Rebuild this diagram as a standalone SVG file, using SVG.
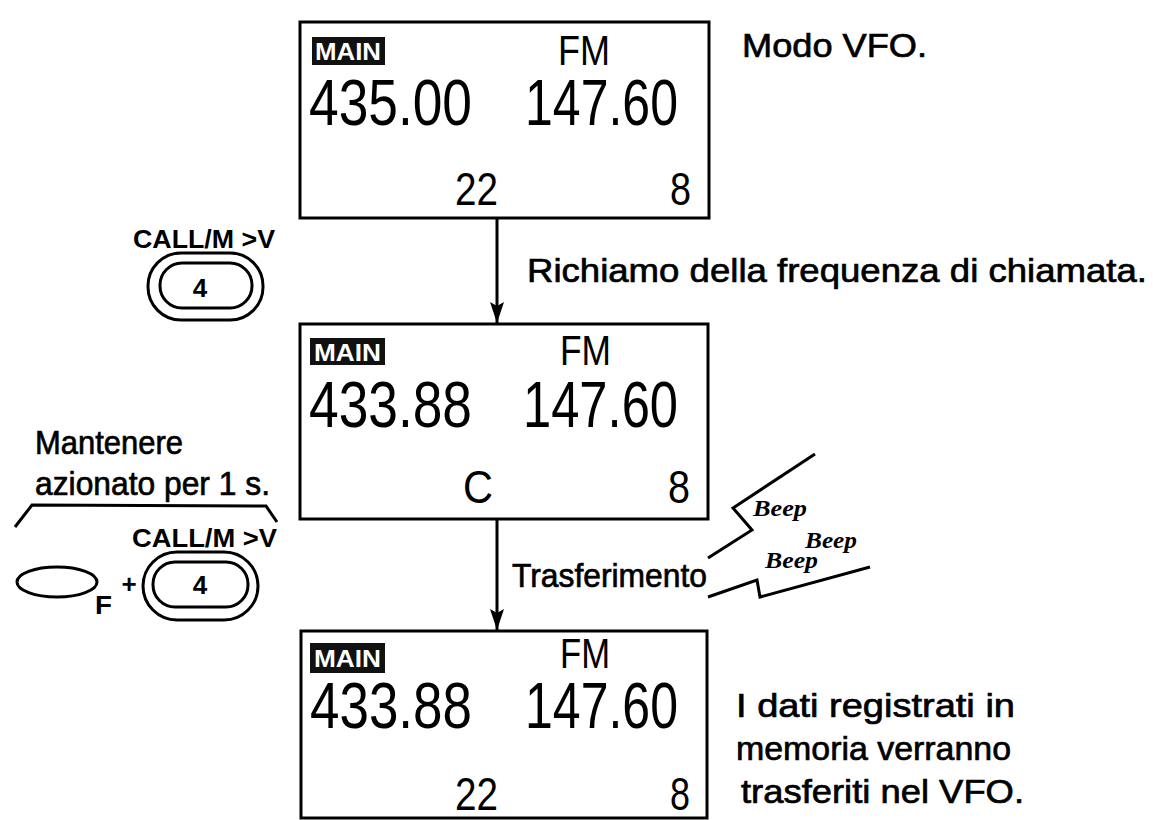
<svg xmlns="http://www.w3.org/2000/svg" width="1153" height="820" viewBox="0 0 1153 820">
<style>
.box{fill:#fff;stroke:#000;stroke-width:3}
.lcd{font-family:"Liberation Sans",Arial,sans-serif;fill:#000}
.big{font-size:64px}
.fm{font-size:42px}
.small{font-size:46px}
.tag{fill:#111}
.tagt{font-family:"Liberation Sans",Arial,sans-serif;font-weight:bold;font-size:24px;fill:#fff}
.lbl{font-family:"Liberation Sans",Arial,sans-serif;font-size:34px;fill:#000;stroke:#000;stroke-width:0.7}
.key{font-family:"Liberation Sans",Arial,sans-serif;font-weight:bold;font-size:26px;fill:#000}
.btn{fill:none;stroke:#000;stroke-width:3}
.ln{fill:none;stroke:#000;stroke-width:3;stroke-linejoin:miter}
.beep{font-family:"Liberation Serif","Times New Roman",serif;font-weight:bold;font-style:italic;font-size:23px;fill:#000}
</style>
<defs>
<marker id="ah" markerWidth="22" markerHeight="16" refX="21" refY="8" orient="auto" markerUnits="userSpaceOnUse" viewBox="0 0 22 16">
<path d="M0,1 L21,8 L0,15 L4,8 Z" fill="#000"/>
</marker>
</defs>

<g id="display-vfo">
<rect class="box" x="300" y="22" width="409" height="196"/>
<rect class="tag" x="312" y="37" width="73" height="28"/>
<text class="tagt" x="315" y="60" textLength="66" lengthAdjust="spacingAndGlyphs">MAIN</text>
<text class="lcd fm" x="558" y="65" textLength="52" lengthAdjust="spacingAndGlyphs">FM</text>
<text class="lcd big" x="309" y="125" textLength="163" lengthAdjust="spacingAndGlyphs">435.00</text>
<text class="lcd big" x="525" y="125" textLength="153" lengthAdjust="spacingAndGlyphs">147.60</text>
<text class="lcd small" x="455" y="205" textLength="43" lengthAdjust="spacingAndGlyphs">22</text>
<text class="lcd small" x="670" y="205" textLength="21" lengthAdjust="spacingAndGlyphs">8</text>
</g>

<g id="display-call">
<rect class="box" x="300" y="324" width="408" height="195"/>
<rect class="tag" x="310" y="338" width="75" height="27"/>
<text class="tagt" x="314" y="361" textLength="67" lengthAdjust="spacingAndGlyphs">MAIN</text>
<text class="lcd fm" x="560" y="365" textLength="51" lengthAdjust="spacingAndGlyphs">FM</text>
<text class="lcd big" x="309" y="427" textLength="163" lengthAdjust="spacingAndGlyphs">433.88</text>
<text class="lcd big" x="523" y="427" textLength="155" lengthAdjust="spacingAndGlyphs">147.60</text>
<text class="lcd small" x="463" y="503" textLength="30" lengthAdjust="spacingAndGlyphs">C</text>
<text class="lcd small" x="668" y="503" textLength="22" lengthAdjust="spacingAndGlyphs">8</text>
</g>

<g id="display-transfer">
<rect class="box" x="301" y="631" width="406" height="187"/>
<rect class="tag" x="310" y="643" width="75" height="30"/>
<text class="tagt" x="314" y="667" textLength="67" lengthAdjust="spacingAndGlyphs">MAIN</text>
<text class="lcd fm" x="560" y="668" textLength="50" lengthAdjust="spacingAndGlyphs">FM</text>
<text class="lcd big" x="310" y="728" textLength="162" lengthAdjust="spacingAndGlyphs">433.88</text>
<text class="lcd big" x="525" y="728" textLength="153" lengthAdjust="spacingAndGlyphs">147.60</text>
<text class="lcd small" x="455" y="810" textLength="43" lengthAdjust="spacingAndGlyphs">22</text>
<text class="lcd small" x="670" y="810" textLength="20" lengthAdjust="spacingAndGlyphs">8</text>
</g>

<g id="connectors">
<line class="ln" x1="497" y1="218" x2="497" y2="323" marker-end="url(#ah)"/>
<line class="ln" x1="497" y1="519" x2="497" y2="630" marker-end="url(#ah)"/>
</g>

<g id="label-vfo">
<text class="lbl" x="742" y="57" textLength="185" lengthAdjust="spacingAndGlyphs">Modo VFO.</text>
</g>
<g id="label-recall">
<text class="lbl" x="527" y="282" textLength="620" lengthAdjust="spacingAndGlyphs">Richiamo della frequenza di chiamata.</text>
</g>
<g id="label-transfer">
<text class="lbl" x="512" y="587" textLength="195" lengthAdjust="spacingAndGlyphs">Trasferimento</text>
</g>
<g id="label-result">
<text class="lbl" x="736" y="717" textLength="279" lengthAdjust="spacingAndGlyphs">I dati registrati in</text>
<text class="lbl" x="736" y="760" textLength="275" lengthAdjust="spacingAndGlyphs">memoria verranno</text>
<text class="lbl" x="741" y="803" textLength="283" lengthAdjust="spacingAndGlyphs">trasferiti nel VFO.</text>
</g>

<g id="key-call">
<text class="key" x="133" y="248" textLength="142" lengthAdjust="spacingAndGlyphs">CALL/M &gt;V</text>
<rect class="btn" x="148" y="253" width="115" height="67" rx="33" ry="33"/>
<rect class="btn" x="160" y="263" width="92" height="45" rx="22" ry="22"/>
<text class="key" x="200" y="297" text-anchor="middle" font-size="24">4</text>
</g>

<g id="key-hold">
<text class="lbl" x="35" y="454" textLength="148" lengthAdjust="spacingAndGlyphs" font-size="31">Mantenere</text>
<text class="lbl" x="35" y="495" textLength="235" lengthAdjust="spacingAndGlyphs" font-size="31">azionato per 1 s.</text>
<polyline class="ln" points="15,527 32,505 266,506 277,522"/>
<text class="key" x="132" y="547" textLength="145" lengthAdjust="spacingAndGlyphs">CALL/M &gt;V</text>
<ellipse class="btn" cx="57" cy="582" rx="40" ry="15"/>
<text class="key" x="95" y="614" textLength="17" lengthAdjust="spacingAndGlyphs">F</text>
<text class="key" x="129" y="593" text-anchor="middle" font-size="20">+</text>
<rect class="btn" x="143" y="552" width="115" height="68" rx="34" ry="34"/>
<rect class="btn" x="153" y="562" width="95" height="45" rx="22" ry="22"/>
<text class="key" x="200" y="594" text-anchor="middle" font-size="24">4</text>
</g>

<g id="beep">
<polyline class="ln" points="708,558 752,530 733,508 815,454"/>
<polyline class="ln" points="708,597 757,580 760,597 870,567"/>
<text class="beep" x="753" y="516" textLength="54" lengthAdjust="spacingAndGlyphs">Beep</text>
<text class="beep" x="805" y="548" textLength="52" lengthAdjust="spacingAndGlyphs">Beep</text>
<text class="beep" x="765" y="568" textLength="53" lengthAdjust="spacingAndGlyphs">Beep</text>
</g>
</svg>
